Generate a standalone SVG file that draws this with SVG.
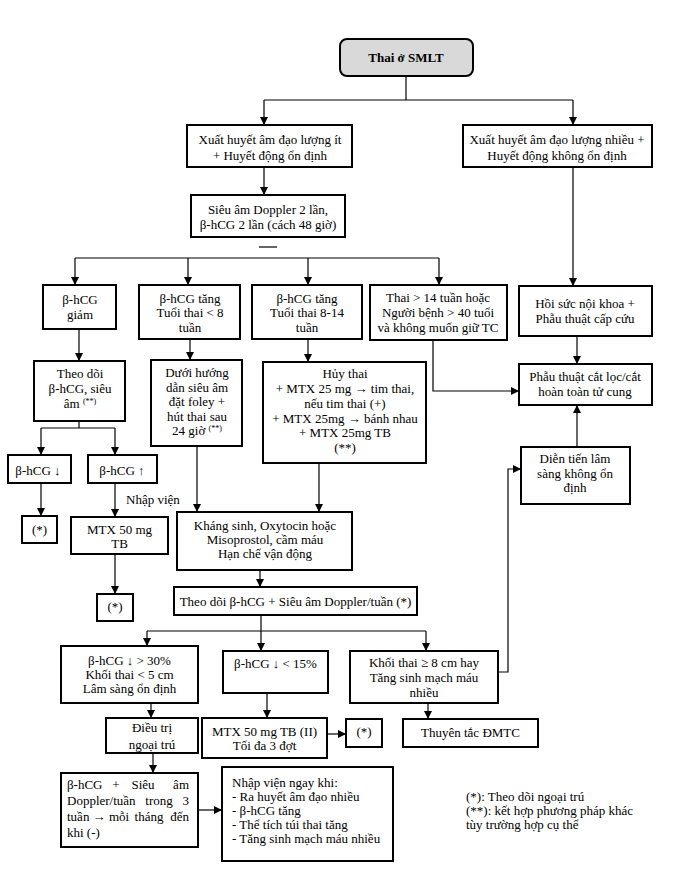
<svg xmlns="http://www.w3.org/2000/svg" width="690" height="869" viewBox="0 0 690 869">
<style>
.b{fill:#fff;stroke:#000;stroke-width:2}
.t{font-family:"Liberation Serif","Times New Roman",serif;font-size:13px;text-anchor:middle;fill:#000}
.l{text-anchor:start}
.e{text-anchor:end}
.c{fill:none;stroke:#000;stroke-width:1.2}
.a{marker-end:url(#arr)}
.sup{font-size:8px}
</style>
<defs>
<marker id="arr" viewBox="0 0 10 10" refX="10" refY="5" markerWidth="8" markerHeight="8" orient="auto" markerUnits="userSpaceOnUse"><path d="M0,0 L10,5 L0,10 z" fill="#000"/></marker>
</defs>
<rect width="690" height="869" fill="#fff"/>
<g id="connectors">
<path class="c" d="M406,76 V100 M264,100 H573"/>
<path class="c a" d="M264,100 V125"/>
<path class="c a" d="M573,100 V125"/>
<path class="c a" d="M264,167 V195"/>
<path class="c a" d="M573,167 V286"/>
<path class="c" d="M259,247 H277" stroke-width="1.5"/>
<path class="c" d="M75,258 H439"/>
<path class="c a" d="M75,258 V285"/>
<path class="c a" d="M188,258 V285"/>
<path class="c a" d="M308,258 V285"/>
<path class="c a" d="M439,258 V285"/>
<path class="c a" d="M79,329 V361"/>
<path class="c a" d="M190,339 V360"/>
<path class="c a" d="M308,339 V362"/>
<path class="c a" d="M577,336 V364"/>
<path class="c a" d="M433,340 V391 H519"/>
<path class="c a" d="M577,447 V405"/>
<path class="c a" d="M498,672 H508 V469 H521"/>
<path class="c" d="M79,421 V428 M41,428 H115"/>
<path class="c a" d="M41,428 V455"/>
<path class="c a" d="M115,428 V455"/>
<path class="c a" d="M41,483 V516"/>
<path class="c a" d="M115,483 V517"/>
<text class="t l" x="126" y="504">Nhập viện</text>
<path class="c a" d="M115,554 V594"/>
<path class="c a" d="M197,446 V512"/>
<path class="c a" d="M319,463 V512"/>
<path class="c a" d="M260,570 V587"/>
<path class="c" d="M147,631 H426"/>
<path class="c a" d="M261,615 V651"/>
<path class="c a" d="M147,631 V646"/>
<path class="c a" d="M426,631 V651"/>
<path class="c a" d="M151,703 V718"/>
<path class="c a" d="M267,693 V718"/>
<path class="c a" d="M428,703 V719"/>
<path class="c a" d="M327,734 H346"/>
<path class="c a" d="M153,753 V773"/>
<path class="c a" d="M198,810 H222"/>
</g>
<g id="n0"><rect class="b" x="340" y="39" width="133" height="37" rx="7" fill="#d9d9d9" style="fill:#d9d9d9"/><text class="t" x="406" y="62" font-weight="bold" font-size="14">Thai ở SMLT</text></g>
<g id="n1"><rect class="b" x="187" y="125" width="165" height="42"/><text class="t" x="270" y="144">Xuất huyết âm đạo lượng ít</text><text class="t" x="270" y="160">+ Huyết động ổn định</text></g>
<g id="n2"><rect class="b" x="463" y="125" width="189" height="42"/><text class="t" x="557" y="144">Xuất huyết âm đạo lượng nhiều +</text><text class="t" x="557" y="160">Huyết động không ổn định</text></g>
<g id="n3"><rect class="b" x="191" y="195" width="154" height="42"/><text class="t" x="268" y="214">Siêu âm Doppler 2 lần,</text><text class="t" x="268" y="229">β-hCG 2 lần (cách 48 giờ)</text></g>
<g id="n4"><rect class="b" x="43" y="285" width="73" height="44"/><text class="t" x="80" y="304">β-hCG</text><text class="t" x="80" y="319">giảm</text></g>
<g id="n5"><rect class="b" x="139" y="285" width="101" height="54"/><text class="t" x="190" y="303">β-hCG tăng</text><text class="t" x="190" y="317">Tuổi thai &lt;  8</text><text class="t" x="190" y="332">tuần</text></g>
<g id="n6"><rect class="b" x="252" y="285" width="110" height="54"/><text class="t" x="307" y="303">β-hCG tăng</text><text class="t" x="307" y="317">Tuổi thai 8-14</text><text class="t" x="307" y="332">tuần</text></g>
<g id="n7"><rect class="b" x="370" y="285" width="137" height="55"/><text class="t" x="438" y="302">Thai &gt; 14 tuần hoặc</text><text class="t" x="438" y="317">Người  bệnh &gt; 40 tuổi</text><text class="t" x="438" y="332">và không muốn giữ TC</text></g>
<g id="n8"><rect class="b" x="519" y="286" width="133" height="50"/><text class="t" x="585" y="308">Hồi sức nội khoa +</text><text class="t" x="585" y="323">Phẫu thuật cấp cứu</text></g>
<g id="n9"><rect class="b" x="34" y="361" width="91" height="60"/><text class="t" x="80" y="378">Theo dõi</text><text class="t" x="80" y="393">β-hCG, siêu</text><text class="t" x="80" y="408">âm <tspan class="sup" dy="-4">(**)</tspan></text></g>
<g id="n10"><rect class="b" x="151" y="360" width="91" height="86"/><text class="t" x="197" y="377">Dưới hướng</text><text class="t" x="197" y="392">dẫn siêu âm</text><text class="t" x="197" y="406">đặt foley +</text><text class="t" x="197" y="421">hút thai  sau</text><text class="t" x="197" y="435">24 giờ <tspan class="sup" dy="-4">(**)</tspan></text></g>
<g id="n11"><rect class="b" x="263" y="362" width="163" height="101"/><text class="t" x="345" y="378">Hủy thai</text><text class="t" x="345" y="393">+ MTX 25 mg → tim thai,</text><text class="t" x="345" y="408">nếu tim thai (+)</text><text class="t" x="345" y="423">+ MTX 25mg → bánh nhau</text><text class="t" x="345" y="437">+ MTX 25mg TB</text><text class="t" x="345" y="452">(**)</text></g>
<g id="n12"><rect class="b" x="519" y="364" width="133" height="41"/><text class="t" x="585" y="381">Phẫu thuật cắt lọc/cắt</text><text class="t" x="585" y="396">hoàn toàn tử cung</text></g>
<g id="n13"><rect class="b" x="521" y="447" width="109" height="57"/><text class="t" x="575" y="463">Diễn tiến lâm</text><text class="t" x="575" y="478">sàng không ổn</text><text class="t" x="575" y="492">định</text></g>
<g id="n14"><rect class="b" x="8" y="455" width="63" height="28"/><text class="t" x="38" y="475">β-hCG ↓</text></g>
<g id="n15"><rect class="b" x="88" y="455" width="69" height="28"/><text class="t" x="122" y="475">β-hCG ↑</text></g>
<g id="n16"><rect class="b" x="22" y="516" width="35" height="27"/><text class="t" x="39.5" y="534">(*)</text></g>
<g id="n17"><rect class="b" x="71" y="517" width="97" height="37"/><text class="t" x="119.5" y="534">MTX 50 mg</text><text class="t" x="119.5" y="548">TB</text></g>
<g id="n18"><rect class="b" x="97" y="594" width="36" height="27"/><text class="t" x="115" y="611">(*)</text></g>
<g id="n19"><rect class="b" x="177" y="512" width="175" height="58"/><text class="t" x="265" y="530">Kháng sinh, Oxytocin hoặc</text><text class="t" x="265" y="544">Misoprostol, cầm máu</text><text class="t" x="265" y="558">Hạn chế vận động</text></g>
<g id="n20"><rect class="b" x="174" y="587" width="243" height="28"/><text class="t" x="295.5" y="606">Theo dõi β-hCG + Siêu âm Doppler/tuần (*)</text></g>
<g id="n21"><rect class="b" x="61" y="646" width="137" height="57"/><text class="t" x="129.5" y="665">β-hCG ↓ &gt; 30%</text><text class="t" x="129.5" y="679">Khối thai &lt; 5 cm</text><text class="t" x="129.5" y="693">Lâm sàng ổn định</text></g>
<g id="n22"><rect class="b" x="223" y="651" width="105" height="42"/><text class="t" x="275.5" y="668">β-hCG ↓ &lt; 15%</text></g>
<g id="n23"><rect class="b" x="350" y="651" width="148" height="52"/><text class="t" x="424" y="667">Khối thai ≥ 8 cm hay</text><text class="t" x="424" y="682">Tăng sinh mạch máu</text><text class="t" x="424" y="697">nhiều</text></g>
<g id="n24"><rect class="b" x="106" y="718" width="92" height="35"/><text class="t" x="152" y="732">Điều trị</text><text class="t" x="152" y="749">ngoại trú</text></g>
<g id="n25"><rect class="b" x="202" y="718" width="125" height="40"/><text class="t" x="264.5" y="736">MTX 50 mg TB (II)</text><text class="t" x="264.5" y="750">Tối đa 3 đợt</text></g>
<g id="n26"><rect class="b" x="346" y="719" width="36" height="28"/><text class="t" x="364" y="736">(*)</text></g>
<g id="n27"><rect class="b" x="403" y="719" width="135" height="28"/><text class="t" x="470.5" y="737">Thuyên tắc ĐMTC</text></g>
<g id="n28"><rect class="b" x="61" y="773" width="137" height="74"/>
<text class="t l" x="67" y="789">β-hCG</text><text class="t" x="116" y="789">+</text><text class="t" x="143" y="789">Siêu</text><text class="t e" x="189" y="789">âm</text>
<text class="t l" x="67" y="805">Doppler/tuần</text><text class="t" x="159" y="805">trong</text><text class="t e" x="189" y="805">3</text>
<text class="t l" x="67" y="821">tuần</text><text class="t" x="99" y="821">→</text><text class="t" x="119" y="821">mỗi</text><text class="t" x="149" y="821">tháng</text><text class="t e" x="189" y="821">đến</text>
<text class="t l" x="67" y="837">khi (-)</text></g>
<g id="n29"><rect class="b" x="222" y="767" width="171" height="94"/>
<text class="t l" x="232" y="787">Nhập viện ngay khi:</text>
<text class="t l" x="232" y="801">- Ra huyết âm đạo nhiều</text>
<text class="t l" x="232" y="815">- β-hCG tăng</text>
<text class="t l" x="232" y="829">- Thể tích túi thai tăng</text>
<text class="t l" x="232" y="843">- Tăng sinh mạch máu nhiều</text></g>
<g id="notes">
<text class="t l" x="466" y="801">(*): Theo dõi ngoại trú</text>
<text class="t l" x="466" y="815">(**): kết hợp phương pháp khác</text>
<text class="t l" x="466" y="829">tùy trường hợp cụ thể</text>
</g>
</svg>
